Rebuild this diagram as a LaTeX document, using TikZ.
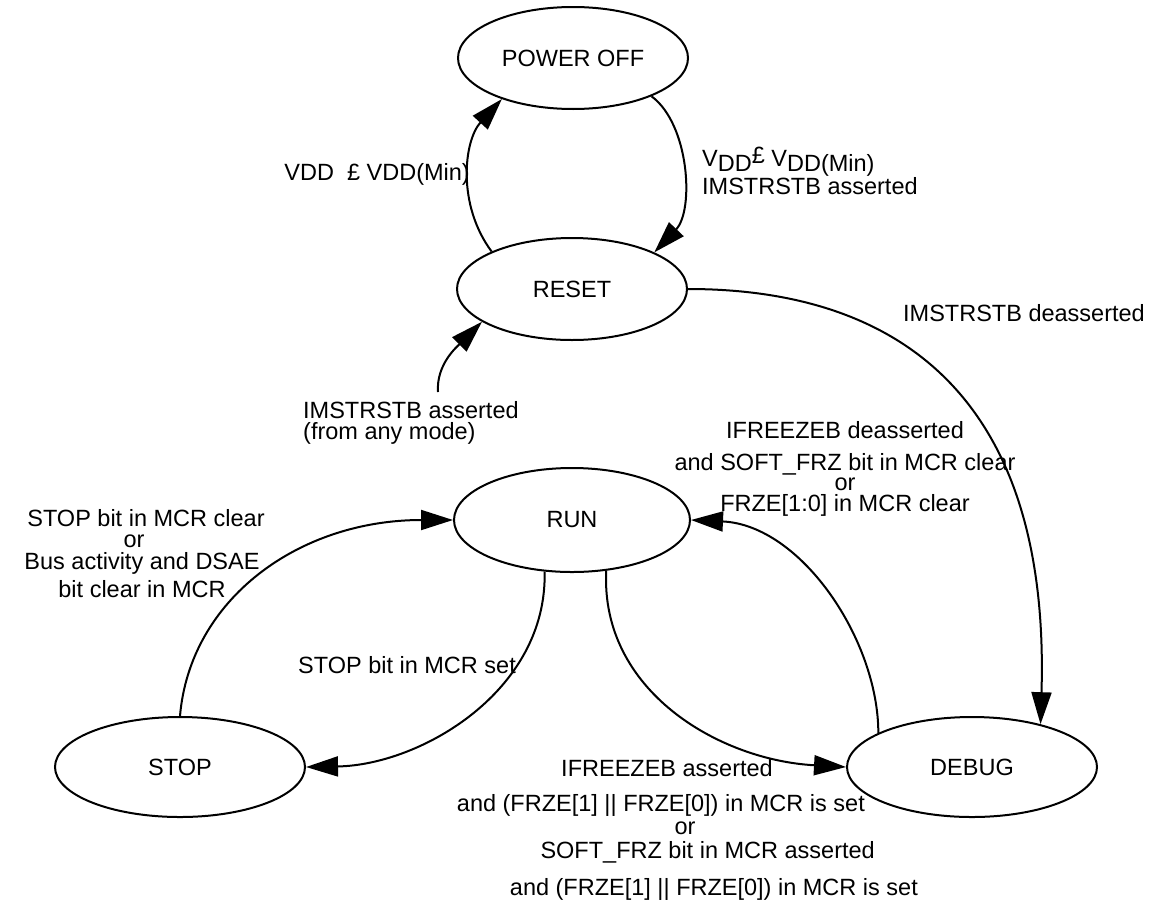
\documentclass[tikz,border=0pt]{standalone}
\usepackage{fontspec}
\setmainfont{Liberation Sans}
\usetikzlibrary{shapes.geometric,arrows.meta}
\newcommand{\lowtxt}[1]{\raisebox{-5pt}{#1}}
\newcommand{\hightxt}[1]{\raisebox{3pt}{#1}}
\begin{document}
\begin{tikzpicture}[x=1pt,y=-1pt,
  every node/.style={font=\fontsize{23.5}{20}\selectfont},
  state/.style={draw, line width=2pt, ellipse, minimum width=230pt, minimum height=102pt, inner sep=0pt},
  widestate/.style={state, minimum width=250pt, minimum height=100pt},
  conn/.style={line width=2pt, -{Triangle[length=32pt,width=20pt]}},
  lbl/.style={inner sep=0pt, anchor=base}]
\useasboundingbox (0,0) rectangle (1150,905);

% states
\node[state] (PO) at (573,58) {POWER OFF};
\node[state] (RESET) at (572,289) {RESET};
\node[state, minimum width=236pt, minimum height=104pt] (RUN) at (572,520) {RUN};
\node[widestate] (STOP) at (180,767) {STOP};
\node[widestate] (DEBUG) at (972,767) {DEBUG};

% connectors
\draw[conn] (RESET.155) .. controls +(-35,-47) and +(-38,41.5) .. (PO.210);
\draw[conn] (PO.-26) .. controls +(38,28) and +(40,-42) .. (RESET.24);
\coordinate (src) at (438,392);
\draw[conn] (src) .. controls +(-2,-28) and +(-24,24) .. (RESET.200);
\draw[conn] (RESET.east) .. controls +(213,0) and +(10,-325) .. (DEBUG.32);
\draw[conn] (DEBUG.160) .. controls +(0,-93) and +(110,5) .. (RUN.east);
\draw[conn] (STOP.north) .. controls +(10,-117) and +(-154,0) .. (RUN.west);
\draw[conn] (RUN.242) .. controls +(3,119) and +(115,-2) .. (STOP.east);
\draw[conn] (RUN.304) .. controls +(-6,120) and +(-127,-7) .. (DEBUG.west);

% labels
\node[lbl, anchor=base east] (vddl) at (470,180) {VDD\ \ £ VDD(Min)};
\node[lbl, anchor=base west] (vddr) at (702,166) {V\lowtxt{DD}\hightxt{£} V\lowtxt{DD(Min)}};
\node[lbl, anchor=base west] (imsa) at (702,194) {IMSTRSTB asserted};
\node[lbl, anchor=base east] (imsd) at (1145,321) {IMSTRSTB deasserted};
\node[lbl, anchor=base west] (anyA) at (303,418) {IMSTRSTB asserted};
\node[lbl, anchor=base west] (anyB) at (303,439) {(from any mode)};

\node[lbl] (fd1) at (845,438) {IFREEZEB deasserted};
\node[lbl] (fd2) at (845,470) {and SOFT\_FRZ bit in MCR clear};
\node[lbl] (fd3) at (845,490) {or};
\node[lbl] (fd4) at (845,511) {FRZE[1:0] in MCR clear};

\node[lbl] (sc1) at (146,526) {STOP bit in MCR clear};
\node[lbl] (sc2) at (134,547) {or};
\node[lbl] (sc3) at (142,569) {Bus activity and DSAE};
\node[lbl] (sc4) at (142,597) {bit clear in MCR};

\node[lbl] (ss) at (407,673) {STOP bit in MCR set};

\node[lbl] (fa1) at (667,776) {IFREEZEB asserted};
\node[lbl, anchor=base east] (fa2) at (865,811) {and (FRZE[1] || FRZE[0]) in MCR is set};
\node[lbl] (fa3) at (685,834) {or};
\node[lbl, anchor=base east] (fa4) at (875,858) {SOFT\_FRZ bit in MCR asserted};
\node[lbl, anchor=base east] (fa5) at (918,895) {and (FRZE[1] || FRZE[0]) in MCR is set};
\end{tikzpicture}
\end{document}
